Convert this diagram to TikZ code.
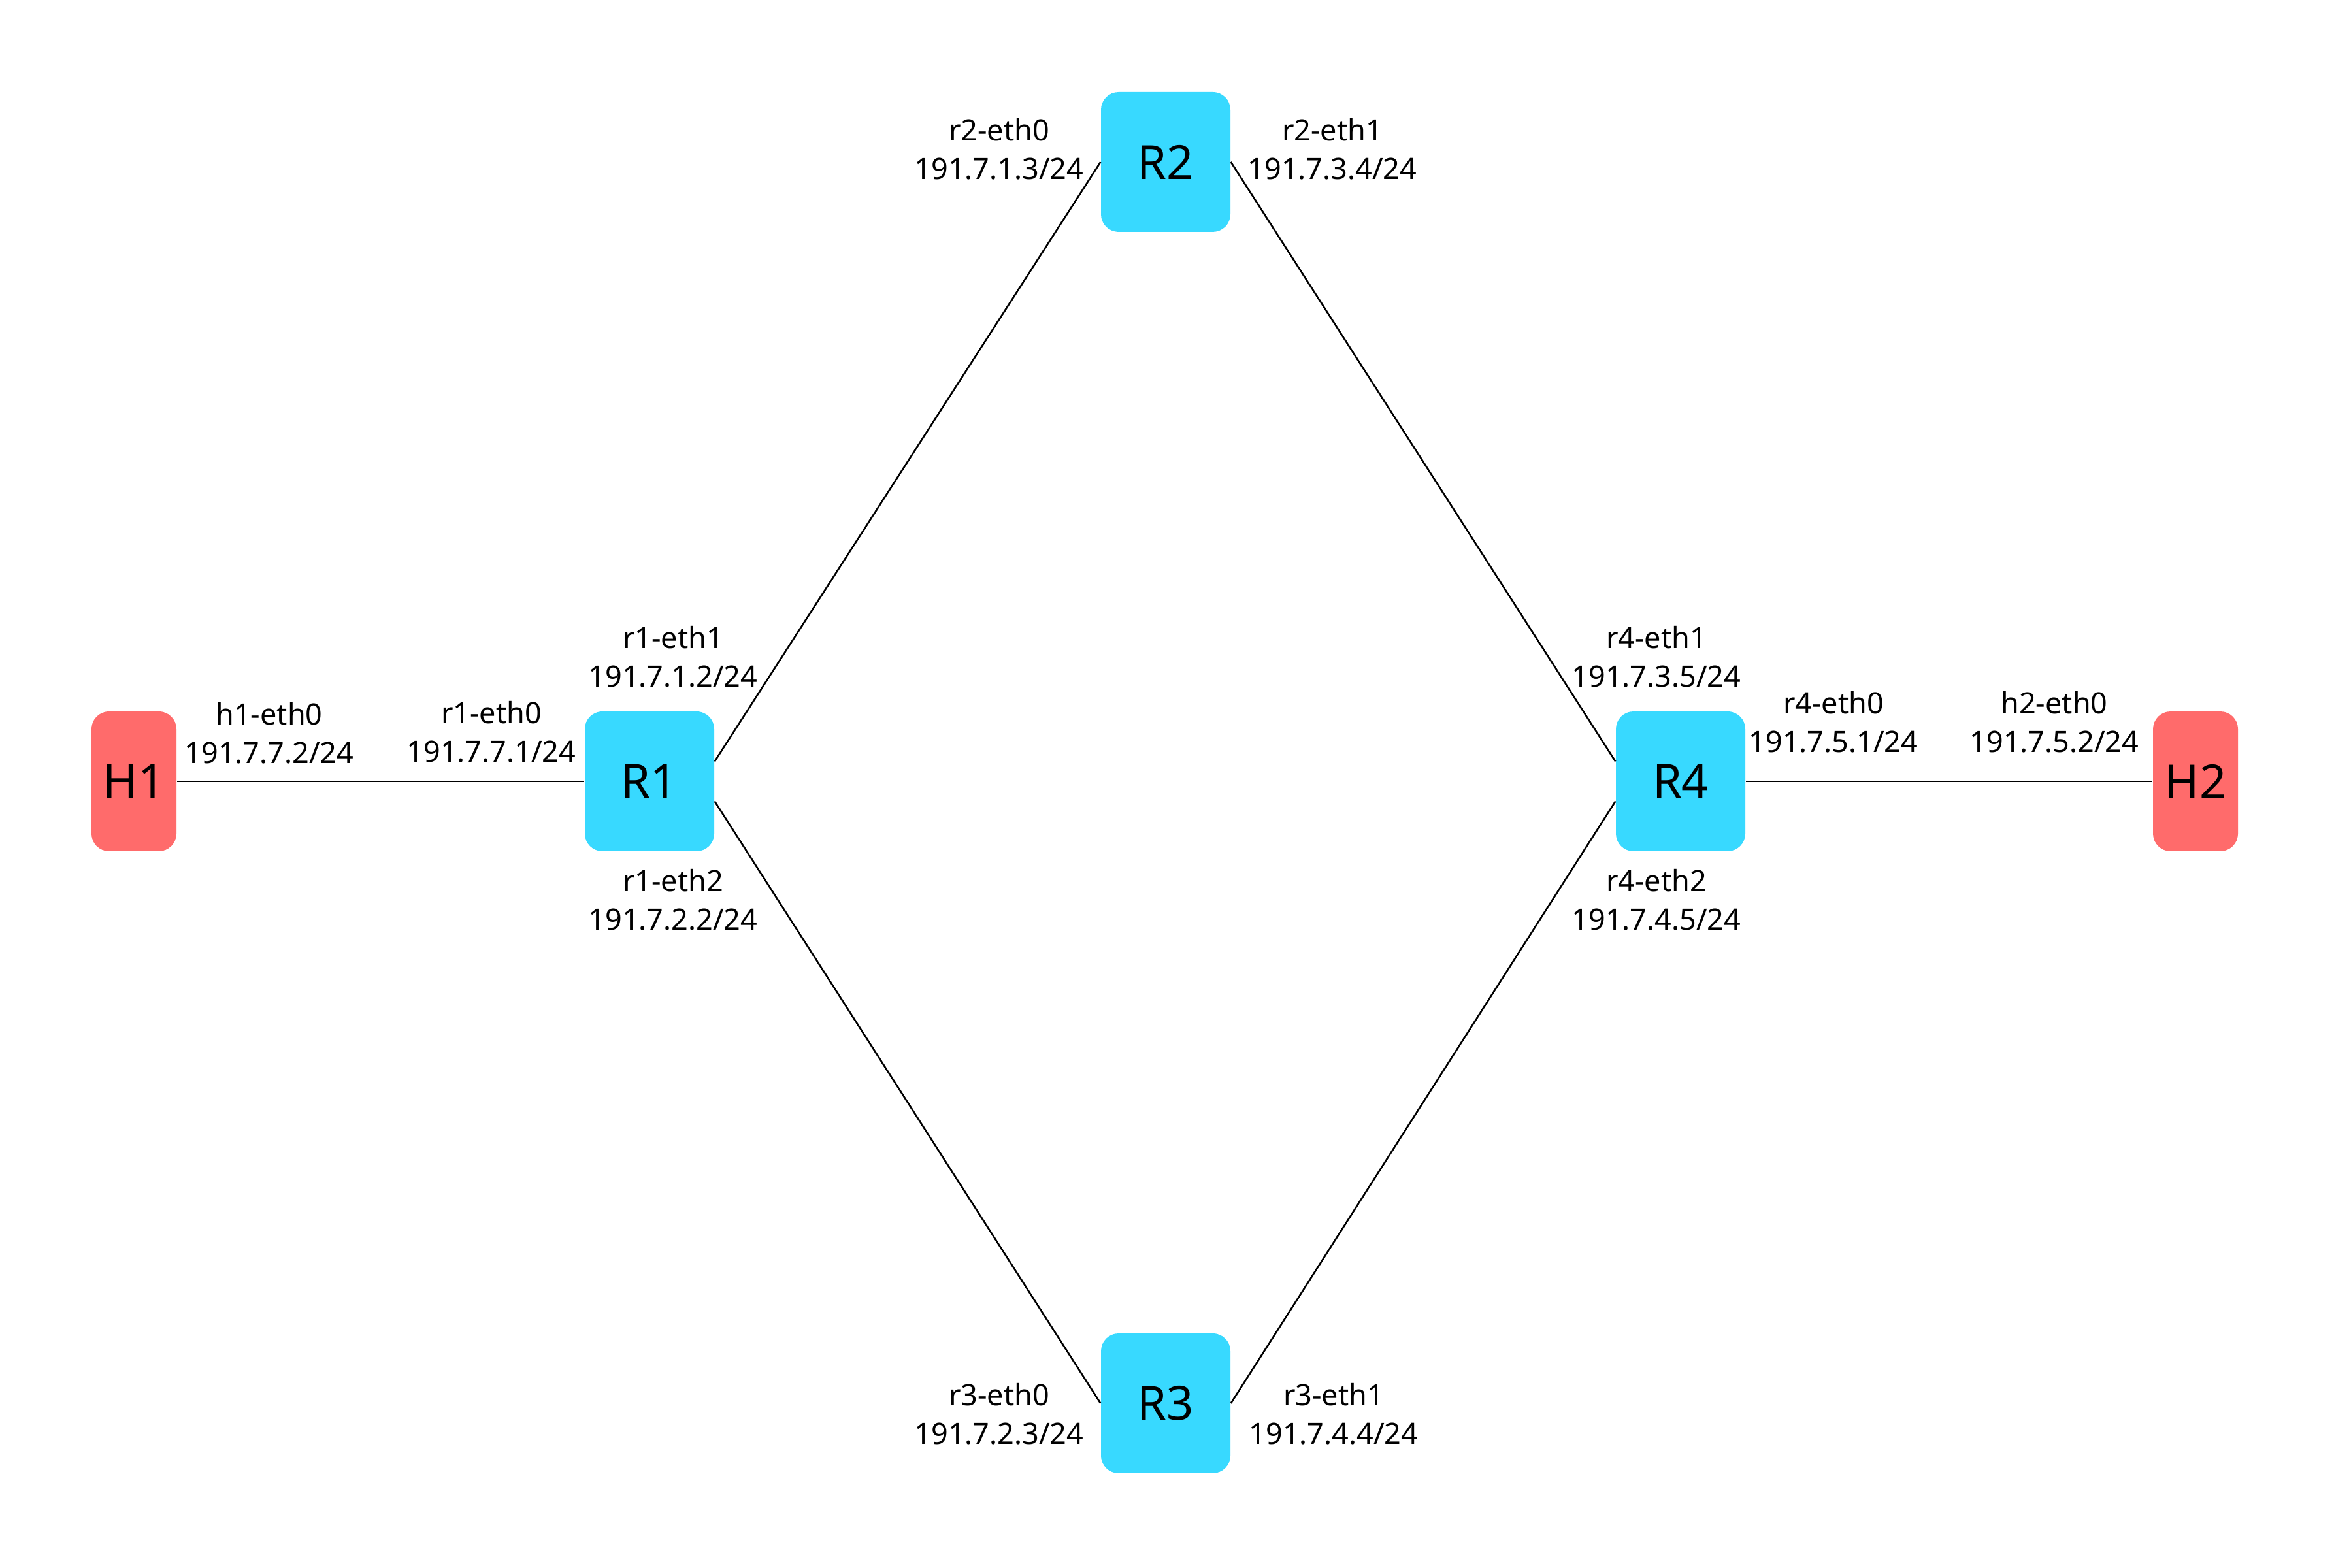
\documentclass[tikz,border=0pt]{standalone}
\usepackage{fontspec}
\setmainfont{Noto Sans}
\usetikzlibrary{positioning}

\definecolor{routerblue}{HTML}{38D9FF}
\definecolor{hostred}{HTML}{FF6B6B}

\begin{document}
\begin{tikzpicture}[
    router/.style={fill=routerblue, rounded corners=0.27cm, minimum width=1.98cm, minimum height=2.14cm, font=\fontsize{20.5}{24}\selectfont},
    host/.style={fill=hostred, rounded corners=0.27cm, minimum width=1.30cm, minimum height=2.14cm, font=\fontsize{20.5}{24}\selectfont},
    iface/.style={align=center, font=\fontsize{12.8}{16.8}\selectfont},
    link/.style={line width=0.75pt}
]
\useasboundingbox (0,0) rectangle (35.72,24);

% hosts and routers
\node[host]   (H1) at ( 2.05,12.04) {H1};
\node[router] (R1) at ( 9.94,12.04) {R1};
\node[router] (R2) at (17.84,21.52) {R2};
\node[router] (R3) at (17.84, 2.52) {R3};
\node[router] (R4) at (25.72,12.04) {R4};
\node[host]   (H2) at (33.60,12.04) {H2};

% links
\draw[link] (H1.east) -- (R1.west);
\draw[link] (R1.17) -- (R2.west);
\draw[link] (R1.-17) -- (R3.west);
\draw[link] (R2.east) -- (R4.163);
\draw[link] (R3.east) -- (R4.197);
\draw[link] (R4.east) -- (H2.west);

% interface labels
    \foreach \nm/\x/\y/\ifc/\ip in {h1e0/4.12/12.78/h1-eth0/7.2,
                                   r1e0/7.52/12.80/r1-eth0/7.1,
                                   r1e1/10.30/13.95/r1-eth1/1.2,
                                   r1e2/10.30/10.23/r1-eth2/2.2,
                                   r2e0/15.29/21.72/r2-eth0/1.3,
                                   r2e1/20.39/21.72/r2-eth1/3.4,
                                   r3e0/15.29/2.36/r3-eth0/2.3,
                                   r3e1/20.41/2.36/r3-eth1/4.4,
                                   r4e1/25.35/13.95/r4-eth1/3.5,
                                   r4e2/25.35/10.23/r4-eth2/4.5,
                                   r4e0/28.06/12.95/r4-eth0/5.1,
                                   h2e0/31.44/12.95/h2-eth0/5.2} {
        \node[iface] (\nm) at (\x,\y) {\ifc\\191.7.\ip/24};
    };
\end{tikzpicture}
\end{document}
